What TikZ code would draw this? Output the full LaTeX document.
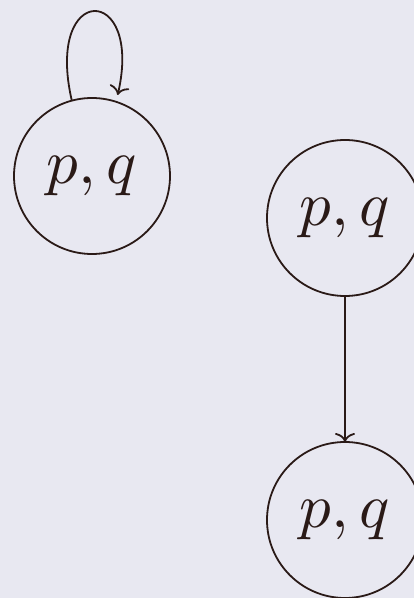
\documentclass[tikz,border=0pt]{standalone}
\usepackage{graphicx}
\usepackage{xcolor}
\usetikzlibrary{arrows.meta}
\definecolor{ink}{HTML}{2A1A17}
\definecolor{paper}{HTML}{E8E8F1}
\newcommand{\bigpq}{\scalebox{6.3}{$p, q$}}

\begin{document}
\begin{tikzpicture}[
      x = 1pt, y = 1pt,
      line width = 1.8pt,
      draw = ink,
      trans/.style={-{To[length=9pt, width=20pt]}, ink},
      state/.style={
        circle,
        draw = ink,
        text = ink,
        minimum size = 156pt,
        inner sep = 0pt,
        outer sep = 0pt,
      },
    ]
    \fill[paper] (0, 0) rectangle (414, 598);
    \useasboundingbox (0, 0) rectangle (414, 598);

    \node[state] (single) at (92, 422) {\bigpq};
    \node[state] (upper) at (345, 380) {\bigpq};
    \node[state] (lower) at (345, 78) {\bigpq};

    % self loop on the lone state
    \draw[trans, shorten > = 7pt] (single.105)
      .. controls +(103:122) and +(77:122) .. (single.72);
    \draw[trans] (upper) -- (lower);
  \end{tikzpicture}
\end{document}
